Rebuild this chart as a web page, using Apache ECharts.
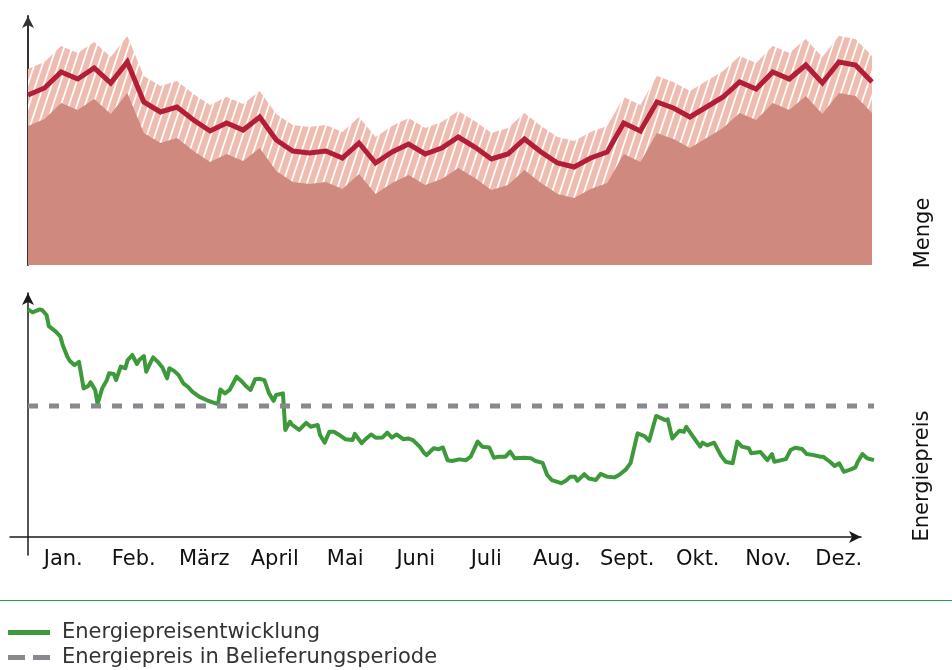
<!DOCTYPE html>
<html>
<head>
<meta charset="utf-8">
<script src="https://cdn.jsdelivr.net/npm/echarts@6/dist/echarts.min.js"></script>
<style>
  html, body { margin: 0; padding: 0; background: #fff; }
  #main { width: 952px; height: 670px; }
</style>
</head>
<body>
<div id="main"></div>
<script>
// Menge (top panel), one value per week
var mengeLine = [170,177,193,186,197,182,203,163,153,158,145,134,142,135,148,125,114,112,114,107,122,102,113,121,111,117,128,118,106,111,126,113,102,98,107,113,142,134,163,157,148,158,168,183,176,193,186,200,182,203,200,183];
var mengeUpper = [196,203,219,212,223,208,229,189,179,184,171,160,168,161,174,151,140,138,140,133,148,128,139,147,137,143,154,144,132,137,152,139,128,124,133,139,168,160,189,183,174,184,194,209,202,219,212,226,208,229,226,209];
var mengeLower = [139,146,162,155,166,151,172,132,122,127,114,103,111,104,117,94,83,81,83,76,91,71,82,90,80,86,97,87,75,80,95,82,71,67,76,82,111,103,132,126,117,127,137,152,145,162,155,169,151,172,169,152];

// Energiepreis (bottom panel): day of year + price
var priceDay = [0,2,5,6,8,9,12,14,15,17,18,20,22,24,26,27,29,30,32,34,35,37,38,40,42,43,45,47,48,50,51,53,54,56,58,60,61,63,65,67,69,71,74,77,80,82,83,85,87,90,92,94,96,98,100,102,104,106,107,110,111,113,114,117,120,122,125,126,128,130,132,135,137,140,141,144,146,148,150,153,155,157,159,162,164,166,169,171,172,175,177,179,181,183,186,189,191,192,194,196,199,201,203,206,208,210,214,217,219,222,224,226,230,232,234,236,237,240,242,245,247,250,253,255,258,260,263,266,268,271,275,276,278,281,283,284,287,290,291,293,296,299,301,304,306,308,311,312,316,319,321,322,327,329,331,334,336,339,342,343,346,348,350,352,355,357,358,360,362,365];
var priceValue = [92.7,91.6,92.7,92.5,90.6,86.4,84.3,82.4,79.2,74.8,73.3,71.7,72.9,62.9,63.8,65.2,62.3,57.0,62.9,66.0,68.6,68.3,66.0,71.1,70.5,73.6,75.5,72.1,73.6,75.1,69.2,72.9,74.6,72.9,70.8,66.7,70.5,69.5,67.9,64.8,63.5,61.6,59.7,58.5,57.5,57.0,62.5,61.0,62.3,67.3,65.7,63.8,62.3,66.3,66.5,66.0,61.0,58.2,60.4,61.0,47.2,50.3,49.1,47.2,49.9,48.4,49.1,45.3,42.4,46.5,46.5,44.9,43.7,43.4,45.7,42.2,44.0,45.5,44.3,44.4,46.2,44.3,45.5,43.7,44.0,43.4,40.9,38.4,37.7,40.3,39.9,40.6,35.8,35.5,36.1,35.8,37.1,39.0,42.8,40.9,40.6,36.7,37.1,37.1,39.0,36.5,36.7,36.5,35.5,34.8,30.2,28.3,27.1,28.0,29.5,29.5,28.0,30.5,28.9,28.3,30.6,29.5,29.3,30.2,32.3,34.8,45.9,44.9,43.1,52.5,50.9,51.2,44.0,46.9,46.5,48.4,44.6,40.9,42.4,41.4,42.4,37.5,35.2,34.6,42.8,40.9,40.3,38.4,38.9,35.8,38.1,35.2,36.2,39.6,40.5,40.0,38.1,37.7,37.1,37.1,35.2,33.6,34.6,31.4,32.3,33.1,35.2,38.1,36.5,35.8];
var contractPrice = 56.2;

var months = ['Jan.', 'Feb.', 'März', 'April', 'Mai', 'Juni', 'Juli', 'Aug.', 'Sept.', 'Okt.', 'Nov.', 'Dez.'];

var FONT = 'DejaVu Sans';

// hatch pattern for the band
function makeHatch() {
  var c = document.createElement('canvas');
  c.width = 8;
  c.height = 24;
  var ctx = c.getContext('2d');
  ctx.fillStyle = '#efbcb1';
  ctx.fillRect(0, 0, 8, 24);
  ctx.strokeStyle = '#ffffff';
  ctx.lineWidth = 1.8;
  [-8, 0, 8].forEach(function (dx) {
    ctx.beginPath();
    ctx.moveTo(dx, 24);
    ctx.lineTo(dx + 8, 0);
    ctx.stroke();
  });
  return c;
}

var weeks = mengeLine.map(function (v, i) { return i + 1; });
var pricePoints = priceDay.map(function (d, i) { return [d, priceValue[i]]; });

var legendText = { fontSize: 21, fontFamily: FONT, color: '#333', lineHeight: 25, padding: [0, 0, 0, 7] };

var myChart = echarts.init(document.getElementById('main'));
var option = {
  animation: false,
  grid: [
    { left: 28, right: 80, top: 16, height: 249 },
    { left: 28, right: 78, top: 293, height: 262 },
    { left: 10, right: 91, top: 500, height: 37 }
  ],
  xAxis: [
    { gridIndex: 0, type: 'category', boundaryGap: false, data: weeks, show: false },
    { gridIndex: 1, type: 'value', min: 0, max: 365, show: false },
    {
      gridIndex: 1, type: 'category', data: months, position: 'bottom', boundaryGap: true,
      axisLine: { show: false }, axisTick: { show: false },
      axisLabel: { interval: 0, margin: 5, verticalAlign: 'middle', fontSize: 21, fontFamily: FONT, color: '#111' }
    },
    {
      gridIndex: 2, type: 'value', min: 0, max: 1,
      axisLine: { show: true, symbol: ['none', 'arrow'], symbolSize: [9, 12], lineStyle: { color: '#1a1a1a', width: 1.5 } },
      axisTick: { show: false }, axisLabel: { show: false }, splitLine: { show: false }
    }
  ],
  yAxis: [
    {
      gridIndex: 0, type: 'value', min: 0, max: 249,
      axisLine: { show: true, symbol: ['none', 'arrow'], symbolSize: [9, 12], lineStyle: { color: '#333', width: 2 } },
      axisTick: { show: false }, axisLabel: { show: false }, splitLine: { show: false }
    },
    {
      gridIndex: 1, type: 'value', min: 0, max: 98.9,
      axisLine: { show: true, symbol: ['none', 'arrow'], symbolSize: [9, 12], lineStyle: { color: '#1a1a1a', width: 1.5 } },
      axisTick: { show: false }, axisLabel: { show: false }, splitLine: { show: false }
    },
    { gridIndex: 2, type: 'value', show: false }
  ],
  legend: [
    {
      left: 8, top: 620, padding: 0, itemWidth: 42, itemHeight: 5, selectedMode: false,
      textStyle: legendText,
      data: [{ name: 'Energiepreisentwicklung', icon: 'rect' }]
    },
    {
      left: 8, top: 645, padding: 0, itemWidth: 42, itemHeight: 5, selectedMode: false,
      textStyle: legendText,
      data: [{ name: 'Energiepreis in Belieferungsperiode', icon: 'path://M0,0H17V5H0Z M25,0H42V5H25Z' }]
    }
  ],
  graphic: [
    { type: 'line', shape: { x1: 0, y1: 600.5, x2: 952, y2: 600.5 }, style: { stroke: '#2f9a40', lineWidth: 1 } },
    {
      type: 'text', x: 924, y: 233, rotation: Math.PI / 2,
      style: { text: 'Menge', fontSize: 21, fontFamily: FONT, fill: '#111', align: 'center', verticalAlign: 'middle' }
    },
    {
      type: 'text', x: 923, y: 476, rotation: Math.PI / 2,
      style: { text: 'Energiepreis', fontSize: 21, fontFamily: FONT, fill: '#111', align: 'center', verticalAlign: 'middle' }
    }
  ],
  series: [
    {
      name: 'Obergrenze', type: 'line', xAxisIndex: 0, yAxisIndex: 0, data: mengeUpper,
      symbol: 'none', silent: true, lineStyle: { width: 0 },
      areaStyle: { color: { image: makeHatch(), repeat: 'repeat' }, opacity: 1 }
    },
    {
      name: 'Untergrenze', type: 'line', xAxisIndex: 0, yAxisIndex: 0, data: mengeLower,
      symbol: 'none', silent: true, lineStyle: { width: 0 },
      areaStyle: { color: '#d0897f', opacity: 1 }
    },
    {
      name: 'Menge', type: 'line', xAxisIndex: 0, yAxisIndex: 0, data: mengeLine,
      symbol: 'none', silent: true, clip: false,
      lineStyle: { color: '#b01f37', width: 5, join: 'miter' }
    },
    {
      name: 'Energiepreisentwicklung', type: 'line', xAxisIndex: 1, yAxisIndex: 1, data: pricePoints,
      symbol: 'none', silent: true, clip: false, color: '#3c9a3a',
      lineStyle: { color: '#3c9a3a', width: 4, join: 'round' }
    },
    {
      name: 'Energiepreis in Belieferungsperiode', type: 'line', xAxisIndex: 1, yAxisIndex: 1,
      data: [[0, contractPrice], [365, contractPrice]],
      symbol: 'none', silent: true, color: '#88888f',
      lineStyle: { color: '#88888f', width: 5, type: [10, 11] }
    }
  ]
};
option && myChart.setOption(option);
</script>
</body>
</html>
